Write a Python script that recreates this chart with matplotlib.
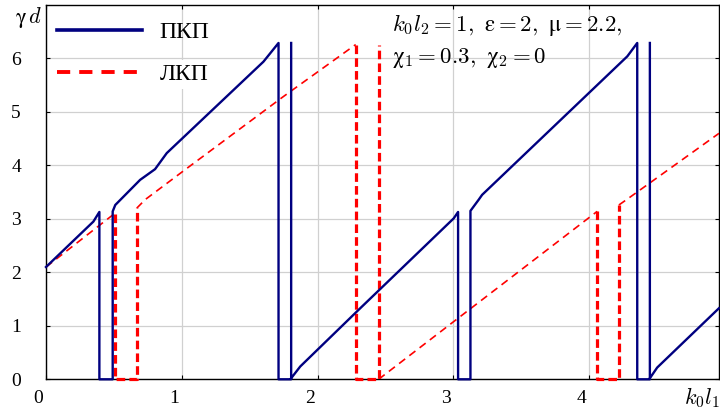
import numpy as np
import matplotlib
matplotlib.use("Agg")
import matplotlib.pyplot as plt
from matplotlib.lines import Line2D
from matplotlib.transforms import ScaledTranslation

plt.rcParams["font.family"] = "serif"
plt.rcParams["font.serif"] = ["Liberation Serif", "DejaVu Serif"]
plt.rcParams["mathtext.fontset"] = "cm"
plt.rcParams["lines.scale_dashes"] = False

nan = np.nan

# ПКП branch: wrapped phase, jumps drawn as vertical drops
pkp_x = [0, 0.349, 0.393, 0.393, 0.491, 0.491, 0.51, 0.693, 0.803, 0.889, 1.601, 1.712,
         1.712, 1.805, 1.805, nan,
         1.805, 1.872, 2.314, 3.002, 3.034, 3.034, 3.125, 3.125, 3.186, 3.211, 4.28, 4.353,
         4.353, 4.446, 4.446, nan,
         4.446, 4.5, 4.955]
pkp_y = [2.1, 2.95, 3.13, 0, 0, 3.14, 3.26, 3.73, 3.93, 4.23, 5.94, 6.29,
         0, 0, 6.29, nan,
         0.02, 0.24, 1.33, 3.01, 3.13, 0, 0, 3.15, 3.36, 3.45, 6.04, 6.29,
         0, 0, 6.29, nan,
         0.02, 0.22, 1.33]

# ЛКП branch: sloped parts and the cut-off (vertical / zero) parts
lkp_slope_x = [0, 0.505, nan, 0.668, 0.73, 1.024, 1.749, 2.28, nan,
               2.449, 3.125, 4.058, nan, 4.218, 4.28, 4.955]
lkp_slope_y = [2.1, 3.1, nan, 3.2, 3.36, 3.92, 5.29, 6.26, nan,
               0, 1.32, 3.14, nan, 3.26, 3.37, 4.60]
lkp_cut_x = [0.505, 0.505, 0.668, 0.668, nan, 2.28, 2.28, 2.449, 2.449, nan,
             4.058, 4.058, 4.218, 4.218]
lkp_cut_y = [3.1, 0, 0, 3.2, nan, 6.26, 0, 0, 6.26, nan,
             3.14, 0, 0, 3.26]

x_ticks = [0, 1, 2, 3, 4]
y_ticks = [0, 1, 2, 3, 4, 5, 6]

BLUE = "#000080"
RED = "#ff0000"

fig = plt.figure(figsize=(7.2, 4.17), dpi=100)
ax = fig.add_axes([46 / 720, 37.7 / 417, 673 / 720, 374.3 / 417])

ax.plot(pkp_x, pkp_y, color=BLUE, lw=1.7, zorder=4, clip_on=False)
ax.plot(lkp_slope_x, lkp_slope_y, color=RED, lw=1.2, dashes=(5.5, 3.8), zorder=3)
ax.plot(lkp_cut_x, lkp_cut_y, color=RED, lw=2.3, dashes=(6.2, 3.0), zorder=3,
        clip_on=False)

ax.set_xlim(0, 4.955)
ax.set_ylim(0, 7)
ax.set_xticks(x_ticks)
ax.set_yticks(y_ticks)
ax.grid(True, color="#d0d0d0", lw=0.9)
ax.set_axisbelow(True)
ax.tick_params(direction="in", length=3, width=0.8, top=True, right=True,
               labelsize=14, colors="black")
ax.tick_params(axis="y", pad=18)
ax.tick_params(axis="x", pad=8)
for lab in ax.get_xticklabels():
    lab.set_transform(lab.get_transform() + ScaledTranslation(-0.08, 0, fig.dpi_scale_trans))
for s in ax.spines.values():
    s.set_color("black")
    s.set_linewidth(1.0)
    s.set_zorder(2.5)

handles = [
    Line2D([], [], color=BLUE, lw=2.6),
    Line2D([], [], color=RED, lw=2.8, dashes=(9.5, 6.5)),
]
leg = ax.legend(handles, ["ПКП", "ЛКП"], loc="upper left",
                bbox_to_anchor=(11 / 673, 0.955), frameon=False, fontsize=17,
                handlelength=3.6, handletextpad=0.75, labelspacing=0.85,
                borderpad=0, borderaxespad=0)
leg.get_texts()[1].set_bbox(dict(facecolor="white", edgecolor="none", pad=3))

fig.text(392 / 720, 1 - 25 / 417, r"$k_0l_2 = 1,\ \mathrm{ε} = 2,\ \mathrm{μ} = 2.2,$",
         fontsize=16.5, ha="left", va="center")
fig.text(392 / 720, 1 - 58 / 417, r"$\mathrm{χ}_1 = 0.3,\ \mathrm{χ}_2 = 0$",
         fontsize=16.5, ha="left", va="center")
fig.text(29 / 720, 1 - 18 / 417, r"$\mathrm{γ}\,d$", fontsize=16, ha="center", va="center")
fig.text(684 / 720, 1 - 398 / 417, r"$k_0l_1$", fontsize=16, ha="left", va="center")

fig.savefig("out.png", dpi=100)
